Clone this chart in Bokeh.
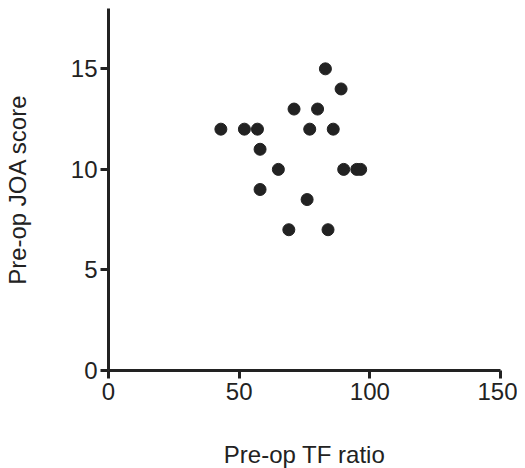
from bokeh.plotting import figure
from bokeh.models import Range1d, FixedTicker
from bokeh.embed import file_html
from bokeh.resources import INLINE

# Data
tf_ratio = [43, 52, 57, 58, 58, 65, 71, 80, 77, 86, 83, 89, 90, 95, 96.5, 76, 69, 84]
joa_score = [12, 12, 12, 11, 9, 10, 13, 13, 12, 12, 15, 14, 10, 10, 10, 8.5, 7, 7]

x_ticks = [0, 50, 100, 150]
y_ticks = [0, 5, 10, 15]

INK = "#222222"
FONT = "Liberation Sans"

p = figure(
    frame_width=392, frame_height=362,
    min_border_left=100, min_border_right=17,
    min_border_top=8, min_border_bottom=82,
    x_range=Range1d(0, 150), y_range=Range1d(0, 18),
    output_backend="svg", toolbar_location=None,
    background_fill_color="white", border_fill_color="white",
)
p.outline_line_color = None
p.grid.visible = False

p.scatter(tf_ratio, joa_score, size=12, color=INK, marker="circle")

for ax, ticks in ((p.xaxis[0], x_ticks), (p.yaxis[0], y_ticks)):
    ax.ticker = FixedTicker(ticks=ticks)
    ax.axis_line_width = 3
    ax.axis_line_color = INK
    ax.major_tick_line_width = 3
    ax.major_tick_line_color = INK
    ax.major_tick_out = 8
    ax.major_tick_in = 0
    ax.minor_tick_line_color = None
    ax.major_label_text_font = FONT
    ax.major_label_text_font_size = "24px"
    ax.major_label_text_color = INK
    ax.axis_label_text_font = FONT
    ax.axis_label_text_font_size = "24px"
    ax.axis_label_text_font_style = "normal"
    ax.axis_label_text_color = INK

p.xaxis.axis_label = "Pre-op TF ratio"
p.yaxis.axis_label = "Pre-op JOA score"
p.xaxis.major_label_standoff = 4
p.yaxis.major_label_standoff = 3
p.xaxis.axis_label_standoff = 38
p.yaxis.axis_label_standoff = 37

open("out.html", "w").write(file_html(p, INLINE))
